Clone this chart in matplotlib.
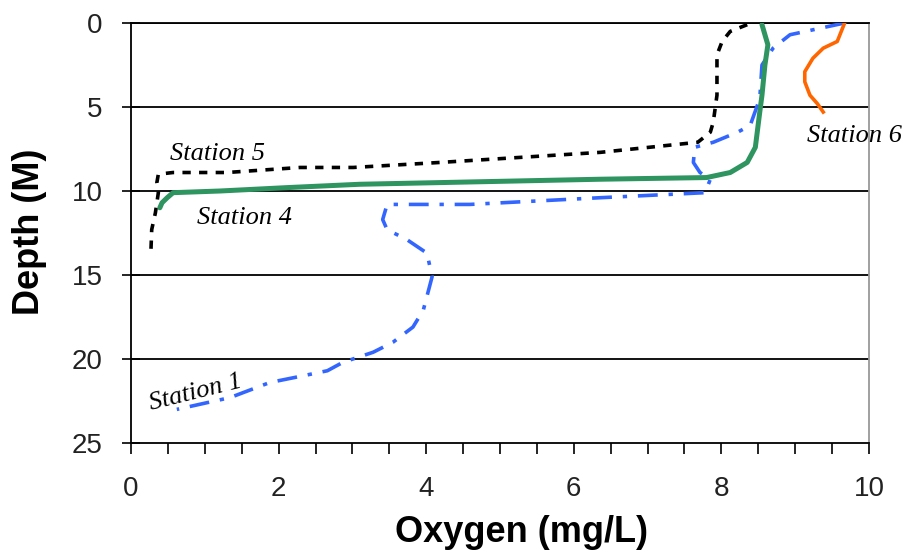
import matplotlib
matplotlib.use("Agg")
import matplotlib.pyplot as plt
from matplotlib.ticker import MultipleLocator

# dissolved oxygen profiles (mg/L) vs depth (m)
st1_oxy = [9.67, 8.93, 8.70, 8.55, 8.52, 8.39, 8.22, 7.89, 7.64, 7.62, 7.71, 7.85, 7.78,
           6.36, 4.59, 3.47, 3.41, 3.47, 3.74, 4.01, 4.08, 3.96, 3.82, 3.55, 3.28,
           2.87, 2.66, 2.33, 1.88, 1.34, 1.03, 0.62]
st1_depth = [0.0, 0.7, 1.5, 2.5, 4.5, 6.1, 6.5, 7.1, 7.4, 8.3, 8.9, 9.3, 10.1,
             10.4, 10.8, 10.8, 11.7, 12.3, 12.9, 13.7, 15.1, 17.1, 18.1, 19.0, 19.6,
             20.2, 20.7, 21.0, 21.4, 22.3, 22.6, 23.0]

st4_oxy = [8.55, 8.63, 8.59, 8.55, 8.52, 8.46, 8.35, 8.12, 7.80, 6.36, 4.19, 3.10,
           2.11, 1.21, 0.57, 0.49, 0.42, 0.39]
st4_depth = [0.1, 1.3, 2.5, 4.3, 5.3, 7.4, 8.3, 8.9, 9.2, 9.3, 9.5, 9.6,
             9.8, 10.0, 10.1, 10.4, 10.7, 11.0]

st5_oxy = [8.35, 8.12, 8.01, 7.94, 7.94, 7.89, 7.85, 7.68, 6.36, 4.19, 3.01, 2.29,
           1.30, 0.57, 0.37, 0.35, 0.37, 0.33, 0.28, 0.27]
st5_depth = [0.1, 0.5, 1.1, 1.9, 4.3, 5.9, 6.5, 7.1, 7.7, 8.3, 8.6, 8.6,
             8.9, 8.9, 9.0, 9.5, 10.1, 11.3, 12.3, 13.5]

st6_oxy = [9.67, 9.57, 9.38, 9.24, 9.13, 9.13, 9.20, 9.30, 9.38]
st6_depth = [0.0, 1.1, 1.5, 2.1, 2.9, 3.5, 4.3, 4.8, 5.3]

fig = plt.figure(figsize=(9.05, 5.55), dpi=100)
ax = fig.add_axes([0.1448, 0.2018, 0.8154, 0.7568])

for d in [0, 5, 10, 15, 20]:
    ax.axhline(d, color="black", lw=1.3, zorder=1)

ax.plot(st1_oxy, st1_depth, color="#3366FF", lw=2.6, dashes=(5.5, 3, 1.2, 3), zorder=3)
ax.plot(st5_oxy, st5_depth, color="black", lw=2.6, dashes=(2.3, 2.3), zorder=3)
ax.plot(st4_oxy, st4_depth, color="#2E9460", lw=3.6, solid_capstyle="round", zorder=4)
ax.plot(st6_oxy, st6_depth, color="#FF6600", lw=2.6, zorder=3)

tfont = dict(family="Liberation Serif", style="italic", fontsize=19)
ax.text(0.53, 7.8, "Station 5", va="center", ha="left", **tfont)
ax.text(0.89, 11.6, "Station 4", va="center", ha="left", **tfont)
ax.text(0.88, 22.0, "Station 1", va="center", ha="center", rotation=14,
        rotation_mode="anchor", **tfont)
ax.text(9.16, 6.73, "Station 6", va="center", ha="left", clip_on=False, **tfont)

ax.set_xlim(0, 10)
ax.set_ylim(25, 0)
ax.xaxis.set_major_locator(MultipleLocator(2))
ax.xaxis.set_minor_locator(MultipleLocator(0.5))
ax.yaxis.set_major_locator(MultipleLocator(5))
ax.tick_params(axis="x", which="both", direction="out", length=8, width=1.2, pad=16,
               labelsize=20)
ax.tick_params(axis="y", direction="inout", length=13, width=1.2, pad=14, labelsize=20)
for lab in ax.get_xticklabels() + ax.get_yticklabels():
    lab.set_family(["Liberation Sans Narrow", "Liberation Sans"])
    lab.set_color("#222222")

for s in ["left", "bottom", "top"]:
    ax.spines[s].set_color("black")
    ax.spines[s].set_linewidth(1.3)
ax.spines["right"].set_color("#999999")
ax.spines["right"].set_linewidth(1.3)

ax.set_xlabel("Oxygen (mg/L)", family="Liberation Sans", fontweight="bold", fontsize=26)
ax.set_ylabel("Depth (M)", family="Liberation Sans", fontweight="bold", fontsize=26)
ax.xaxis.set_label_coords(0.529, -0.171)
ax.yaxis.set_label_coords(-0.114, 0.502)

fig.savefig("out.png", dpi=100)
